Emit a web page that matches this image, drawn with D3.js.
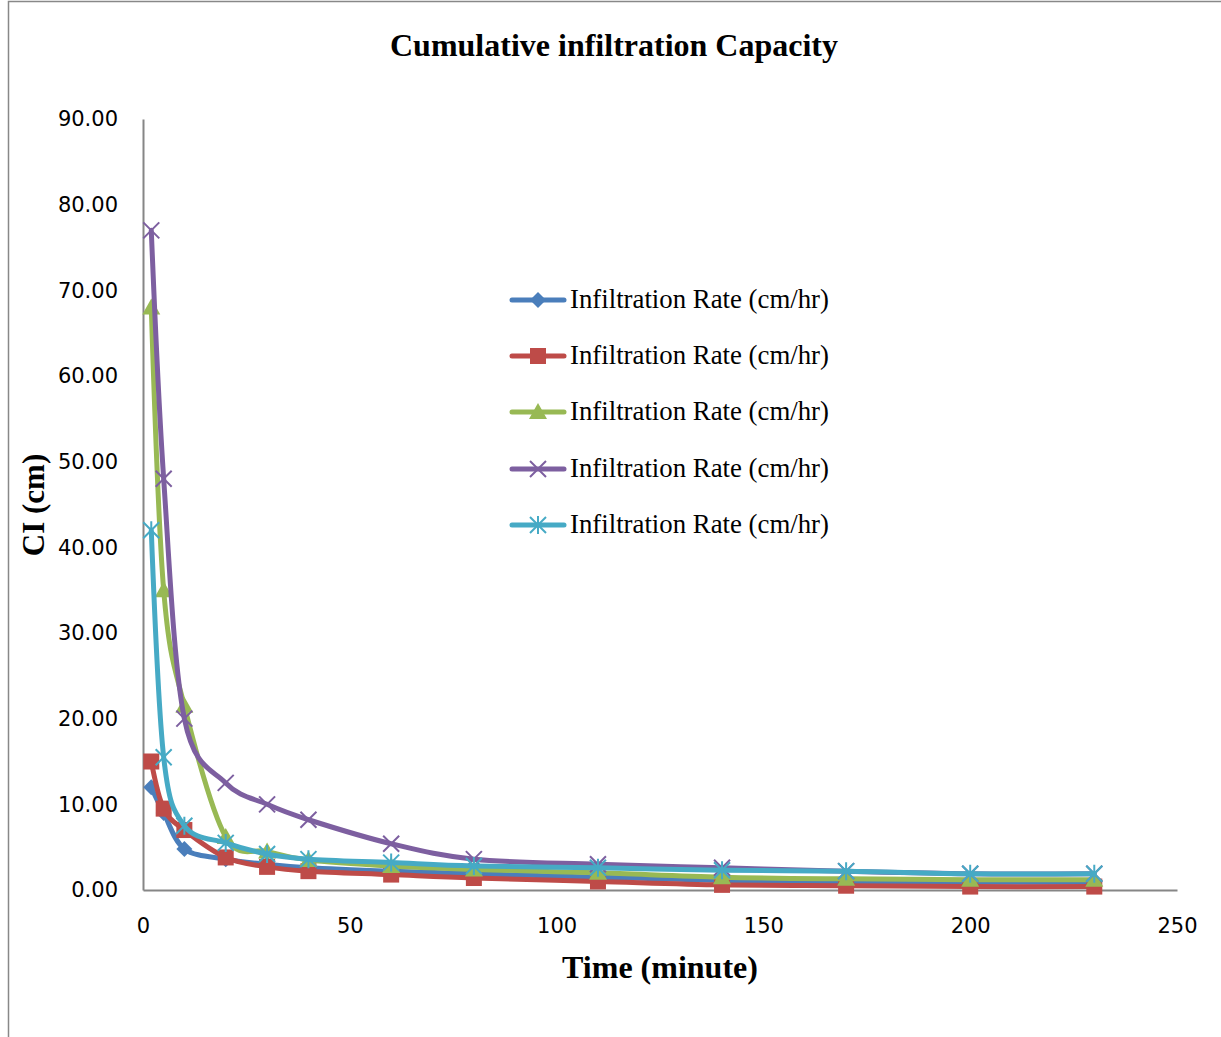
<!DOCTYPE html>
<html><head><meta charset="utf-8">
<script src="https://cdn.jsdelivr.net/npm/d3@7"></script>
<style>body{margin:0;background:#fff}</style>
</head><body>
<script>
const times = [2, 5, 10, 20, 30, 40, 60, 80, 110, 140, 170, 200, 230];
const seriesNames = ["Infiltration Rate (cm/hr)","Infiltration Rate (cm/hr)","Infiltration Rate (cm/hr)","Infiltration Rate (cm/hr)","Infiltration Rate (cm/hr)"];
const s1 = [12, 9.0, 4.8, 3.6, 3.0, 2.6, 2.2, 1.9, 1.5, 1.1, 0.9, 0.9, 0.9];
const s2 = [15, 9.5, 7.0, 3.8, 2.7, 2.2, 1.8, 1.4, 1.0, 0.6, 0.5, 0.4, 0.4];
const s3 = [68, 35, 21.5, 6.2, 4.5, 3.5, 2.8, 2.4, 2.0, 1.5, 1.3, 1.2, 1.2];
const s4 = [77, 48, 20, 12.5, 10, 8.2, 5.4, 3.6, 3.0, 2.6, 2.2, 1.9, 1.9];
const s5 = [42, 15.5, 7.5, 5.5, 4.2, 3.6, 3.2, 2.8, 2.6, 2.3, 2.2, 1.9, 1.9];
const yTicks = [0,10,20,30,40,50,60,70,80,90];
const xTicks = [0,50,100,150,200,250];
const colors = ["#4a7ebb","#be4b48","#98b954","#7d5fa0","#46aac5"];
const markers = ["diamond","square","triangle","x","star"];
const allSeries = [s1,s2,s3,s4,s5];

const W=1221,H=1037;
const svg=d3.select("body").append("svg").attr("width",W).attr("height",H);
svg.append("rect").attr("x",8.5).attr("y",1.5).attr("width",W).attr("height",H).attr("fill","#fff").attr("stroke","#888").attr("stroke-width",1.5);

const x=d3.scaleLinear().domain([0,250]).range([143,1177]);
const y=d3.scaleLinear().domain([0,90]).range([890,119]);

svg.append("text").attr("x",614).attr("y",56).attr("text-anchor","middle")
 .attr("font-family","Liberation Serif").attr("font-weight","bold").attr("font-size",32).text("Cumulative infiltration Capacity");

const gx=svg.append("g").attr("transform","translate(0,890)")
 .call(d3.axisBottom(x).tickValues(xTicks).tickSize(0).tickPadding(32).tickFormat(d3.format("d")));
const gy=svg.append("g").attr("transform","translate(143,0)")
 .call(d3.axisLeft(y).tickValues(yTicks).tickSize(0).tickPadding(25).tickFormat(d3.format(".2f")));
[gx,gy].forEach(g=>{
  g.select(".domain").attr("stroke","#868686").attr("stroke-width",2);
  g.selectAll("text").attr("font-family","DejaVu Sans").attr("font-size",21).attr("fill","#000");
});
gx.selectAll("text").attr("dy","0.5em");

svg.append("text").attr("x",660).attr("y",978).attr("text-anchor","middle")
 .attr("font-family","Liberation Serif").attr("font-weight","bold").attr("font-size",32).text("Time (minute)");
svg.append("text").attr("transform","translate(44,505) rotate(-90)").attr("text-anchor","middle")
 .attr("font-family","Liberation Serif").attr("font-weight","bold").attr("font-size",31).text("CI (cm)");

const line=d3.line().x(d=>x(d[0])).y(d=>y(d[1])).curve(d3.curveCatmullRom.alpha(0));

function drawMarker(g,type,cx,cy,color){
  const s=8;
  if(type==="diamond") g.append("path").attr("d",`M${cx},${cy-s}L${cx+s},${cy}L${cx},${cy+s}L${cx-s},${cy}Z`).attr("fill",color);
  else if(type==="square") g.append("rect").attr("x",cx-s).attr("y",cy-s).attr("width",2*s).attr("height",2*s).attr("fill",color);
  else if(type==="triangle") g.append("path").attr("d",`M${cx},${cy-s-1}L${cx+s+1},${cy+s-1}L${cx-s-1},${cy+s-1}Z`).attr("fill",color);
  else if(type==="x") g.append("path").attr("d",`M${cx-s},${cy-s}L${cx+s},${cy+s}M${cx-s},${cy+s}L${cx+s},${cy-s}`).attr("stroke",color).attr("stroke-width",2);
  else if(type==="star") g.append("path").attr("d",`M${cx-s},${cy-s}L${cx+s},${cy+s}M${cx-s},${cy+s}L${cx+s},${cy-s}M${cx},${cy-s-1}L${cx},${cy+s+1}`).attr("stroke",color).attr("stroke-width",2);
}

allSeries.forEach((vals,i)=>{
  const pts=times.map((t,j)=>[t,vals[j]]);
  const g=svg.append("g");
  g.append("path").attr("d",line(pts)).attr("fill","none").attr("stroke",colors[i]).attr("stroke-width",5).attr("stroke-linecap","round");
  pts.forEach(p=>drawMarker(g,markers[i],x(p[0]),y(p[1]),colors[i]));
});

const legY=[300,356,412,469,525];
seriesNames.forEach((n,i)=>{
  const g=svg.append("g");
  g.append("line").attr("x1",512).attr("x2",564).attr("y1",legY[i]).attr("y2",legY[i]).attr("stroke",colors[i]).attr("stroke-width",5).attr("stroke-linecap","round");
  drawMarker(g,markers[i],538,legY[i],colors[i]);
  g.append("text").attr("x",570).attr("y",legY[i]+8).attr("font-family","Liberation Serif").attr("font-size",26.8).text(n);
});
</script>
</body></html>
